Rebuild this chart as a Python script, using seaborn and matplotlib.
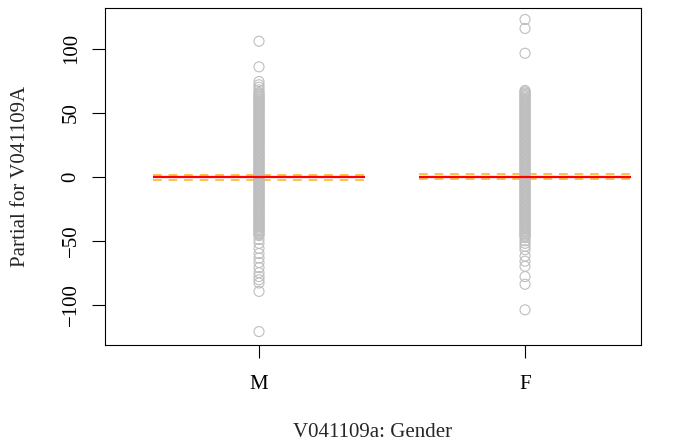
import matplotlib
matplotlib.use("Agg")
import matplotlib.pyplot as plt
import seaborn as sns
import pandas as pd

categories = ["M", "F"]

# partial residuals (dense central column listed explicitly)
m_values = [106, 86, 74.5, 72, 70, 68,
            66, 65, 64, 63, 62, 61, 60, 59, 58, 57, 56, 55, 54, 53, 52, 51, 50, 49,
            48, 47, 46, 45, 44, 43, 42, 41, 40, 39, 38, 37, 36, 35, 34, 33, 32, 31,
            30, 29, 28, 27, 26, 25, 24, 23, 22, 21, 20, 19, 18, 17, 16, 15, 14, 13,
            12, 11, 10, 9, 8, 7, 6, 5, 4, 3, 2, 1, 0, -1, -2, -3, -4, -5, -6, -7,
            -8, -9, -10, -11, -12, -13, -14, -15, -16, -17, -18, -19, -20, -21, -22,
            -23, -24, -25, -26, -27, -28, -29, -30, -31, -32, -33, -34, -35, -36,
            -37, -38, -39, -40, -41, -42, -43, -44, -45, -46,
            -49, -52, -56, -60, -63.5, -67, -71, -75, -78, -80.5, -83, -89.6, -121]
f_values = [123, 116, 96.6, 67.5, 66.5,
            65.5, 64.5, 63.5, 62.5, 61.5, 60.5, 59.5, 58.5, 57.5, 56.5, 55.5, 54.5,
            53.5, 52.5, 51.5, 50.5, 49.5, 48.5, 47.5, 46.5, 45.5, 44.5, 43.5, 42.5,
            41.5, 40.5, 39.5, 38.5, 37.5, 36.5, 35.5, 34.5, 33.5, 32.5, 31.5, 30.5,
            29.5, 28.5, 27.5, 26.5, 25.5, 24.5, 23.5, 22.5, 21.5, 20.5, 19.5, 18.5,
            17.5, 16.5, 15.5, 14.5, 13.5, 12.5, 11.5, 10.5, 9.5, 8.5, 7.5, 6.5, 5.5,
            4.5, 3.5, 2.5, 1.5, 0.5, -0.5, -1.5, -2.5, -3.5, -4.5, -5.5, -6.5, -7.5,
            -8.5, -9.5, -10.5, -11.5, -12.5, -13.5, -14.5, -15.5, -16.5, -17.5,
            -18.5, -19.5, -20.5, -21.5, -22.5, -23.5, -24.5, -25.5, -26.5, -27.5,
            -28.5, -29.5, -30.5, -31.5, -32.5, -33.5, -34.5, -35.5, -36.5, -37.5,
            -38.5, -39.5, -40.5, -41.5, -42.5, -43.5, -44.5, -45.5, -46.5, -47.5,
            -50, -52, -54.4, -57, -62, -66, -70, -78, -84, -104]

fit = [-0.5, 0.0]
se_upper = [1.5, 2.3]
se_lower = [-2.4, -2.0]

df = pd.DataFrame({
    "gender": ["M"] * len(m_values) + ["F"] * len(f_values),
    "partial": m_values + f_values,
})

sns.set_style("white")
plt.rcParams["font.family"] = ["Liberation Serif", "DejaVu Serif"]

fig = plt.figure(figsize=(6.75, 4.44), dpi=100)
ax = fig.add_axes([105 / 675, 1 - 345 / 444, (641 - 105) / 675, (345 - 8) / 444])

sns.stripplot(data=df, x="gender", y="partial", order=categories, jitter=False,
              ax=ax, marker="o", size=7.2, facecolors="none",
              edgecolor="#BEBEBE", linewidth=0.8, color="#BEBEBE", zorder=3)
for coll in ax.collections:
    coll.set_facecolor("none")
    coll.set_edgecolor("#BEBEBE")
    coll.set_linewidth(0.8)

for i, cat in enumerate(categories):
    ax.hlines(se_upper[i], i - 0.4, i + 0.4, colors="#FFA500", alpha=0.7,
              linestyles=(0, (4.5, 3.5)), linewidth=1.4, zorder=2)
    ax.hlines(se_lower[i], i - 0.4, i + 0.4, colors="#FFA500", alpha=0.7,
              linestyles=(0, (4.5, 3.5)), linewidth=1.4, zorder=2)
    ax.hlines(fit[i], i - 0.4, i + 0.4, colors="red", linewidth=1.6, zorder=4)

ax.set_xlim(-0.579, 1.436)
ax.set_ylim(-131.5, 132)
ax.set_yticks([-100, -50, 0, 50, 100])
ax.set_yticklabels(["\u2212100", "\u221250", "0", "50", "100"], rotation=90, va="center")
ax.set_xticks([0, 1])
ax.set_xticklabels(categories)

for s in ax.spines.values():
    s.set_visible(True)
    s.set_color("black")
    s.set_linewidth(0.8)

ax.tick_params(axis="y", direction="out", length=9.5, width=0.8, colors="black",
               labelsize=15, left=True, pad=8)
ax.tick_params(axis="x", direction="out", length=9.5, width=0.8, colors="black",
               labelsize=15, bottom=True, pad=12)
ax.set_xlabel("V041109a: Gender", fontsize=15, labelpad=21)
ax.set_ylabel("Partial for V041109A", fontsize=15, labelpad=23)

fig.savefig("out.png", dpi=100)
